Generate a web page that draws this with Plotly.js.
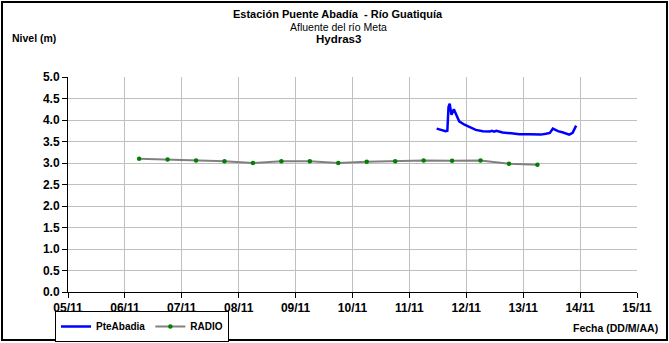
<!DOCTYPE html>
<html>
<head>
<meta charset="utf-8">
<script src="https://cdn.plot.ly/plotly-3.0.1.min.js"></script>
<style>
html,body{margin:0;padding:0;background:#fff;}
#chart{width:669px;height:343px;}
</style>
</head>
<body>
<div id="chart"></div>
<script>
// ---- data ----
const radioTime = ['2012-11-06 06:00','2012-11-06 18:00','2012-11-07 06:00','2012-11-07 18:00','2012-11-08 06:00','2012-11-08 18:00','2012-11-09 06:00','2012-11-09 18:00','2012-11-10 06:00','2012-11-10 18:00','2012-11-11 06:00','2012-11-11 18:00','2012-11-12 06:00','2012-11-12 18:00','2012-11-13 06:00'];
const radioLevel = [3.10,3.08,3.06,3.04,3.00,3.04,3.04,3.00,3.03,3.04,3.06,3.05,3.06,2.98,2.96];

const pteTime = ['2012-11-11 11:30','2012-11-11 13:30','2012-11-11 15:20','2012-11-11 16:00','2012-11-11 16:30','2012-11-11 17:00','2012-11-11 17:45','2012-11-11 18:45','2012-11-11 19:40','2012-11-11 21:00','2012-11-11 23:15','2012-11-12 01:10','2012-11-12 04:00','2012-11-12 07:00','2012-11-12 09:50','2012-11-12 10:50','2012-11-12 11:45','2012-11-12 12:40','2012-11-12 15:20','2012-11-12 19:00','2012-11-12 22:20','2012-11-13 02:25','2012-11-13 07:25','2012-11-13 09:35','2012-11-13 11:15','2012-11-13 12:30','2012-11-13 14:40','2012-11-13 16:50','2012-11-13 19:25','2012-11-13 20:50','2012-11-13 22:20'];
const pteLevel = [3.80,3.77,3.74,3.75,4.30,4.38,4.12,4.25,4.14,3.97,3.89,3.84,3.77,3.74,3.73,3.75,3.73,3.75,3.71,3.69,3.67,3.67,3.66,3.68,3.70,3.80,3.74,3.71,3.66,3.70,3.87];

const xRange = ['2012-11-05 00:00','2012-11-15 00:00'];
const yRange = [0,5];

const titleMain = 'Estación Puente Abadía &nbsp;- Río Guatiquía';
const titleSub = 'Afluente del río Meta';
const titleThird = 'Hydras3';
const yLabel = 'Nivel (m)';
const xLabel = 'Fecha (DD/M/AA)';

// ---- layout helpers (pixel -> paper) ----
const W = 669, H = 343;
const M = {l:68, r:32, t:77, b:51, autoexpand:false};
const pw = W - M.l - M.r, ph = H - M.t - M.b;
const px = x => (x - M.l) / pw;
const py = y => (H - M.b - y) / ph;

const FONT = 'Liberation Sans, Arial, sans-serif';

const traces = [
  {x: pteTime, y: pteLevel, name: 'PteAbadia', type: 'scatter', mode: 'lines',
   line: {color: '#0000FF', width: 2.5}},
  {x: radioTime, y: radioLevel, name: 'RADIO', type: 'scatter', mode: 'lines+markers',
   line: {color: '#808080', width: 2}, marker: {color: '#008000', size: 4.5}}
];

const layout = {
  width: W, height: H,
  margin: M,
  paper_bgcolor: '#fff', plot_bgcolor: '#fff',
  font: {family: FONT, color: '#000'},
  showlegend: true,
  legend: {orientation: 'h', x: px(55), y: py(311), xanchor: 'left', yanchor: 'top',
           bordercolor: '#000', borderwidth: 1, bgcolor: '#fff',
           font: {family: FONT, size: 10, weight: 'bold', color: '#000'},
           itemwidth: 30, tracegroupgap: 0},
  xaxis: {type: 'date', range: xRange, dtick: 86400000, tick0: xRange[0], tickformat: '%d/%m',
          showgrid: true, gridcolor: '#C0C0C0', gridwidth: 1,
          showline: true, linecolor: '#000', linewidth: 1,
          ticks: 'outside', ticklen: 5, tickcolor: '#000',
          tickfont: {family: FONT, size: 12, weight: 'bold', color: '#000'},
          zeroline: false, fixedrange: true},
  yaxis: {range: yRange, dtick: 0.5, tick0: 0, tickformat: '.1f',
          showgrid: true, gridcolor: '#C0C0C0', gridwidth: 1,
          showline: true, linecolor: '#000', linewidth: 1,
          ticks: 'outside', ticklen: 5, tickcolor: '#000',
          tickfont: {family: FONT, size: 12, weight: 'bold', color: '#000'},
          zeroline: false, fixedrange: true},
  shapes: [
    {type: 'rect', xref: 'paper', yref: 'paper', x0: px(2), x1: px(667), y0: py(340), y1: py(2),
     line: {color: '#000', width: 2}, fillcolor: 'rgba(0,0,0,0)', layer: 'above'}
  ],
  annotations: [
    {text: '<b>' + titleMain + '</b>', xref: 'paper', yref: 'paper', x: px(338), y: py(14),
     xanchor: 'center', yanchor: 'middle', showarrow: false, font: {family: FONT, size: 11}},
    {text: titleSub, xref: 'paper', yref: 'paper', x: px(338), y: py(27),
     xanchor: 'center', yanchor: 'middle', showarrow: false, font: {family: FONT, size: 10.5}},
    {text: '<b>' + titleThird + '</b>', xref: 'paper', yref: 'paper', x: px(338), y: py(39),
     xanchor: 'center', yanchor: 'middle', showarrow: false, font: {family: FONT, size: 11.5}},
    {text: '<b>' + yLabel + '</b>', xref: 'paper', yref: 'paper', x: px(10), y: py(38),
     xanchor: 'left', yanchor: 'middle', showarrow: false, font: {family: FONT, size: 10.5}},
    {text: '<b>' + xLabel + '</b>', xref: 'paper', yref: 'paper', x: px(660), y: py(328),
     xanchor: 'right', yanchor: 'middle', showarrow: false, font: {family: FONT, size: 10.5}}
  ]
};

Plotly.newPlot('chart', traces, layout, {staticPlot: true, displayModeBar: false});
</script>
</body>
</html>
